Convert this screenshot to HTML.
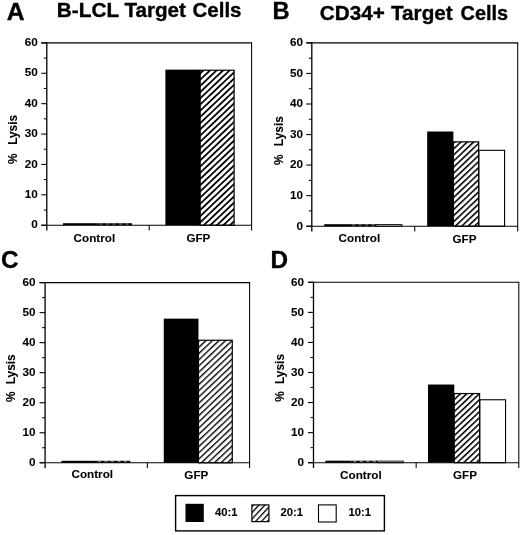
<!DOCTYPE html>
<html lang="en"><head><meta charset="utf-8"><title>Lysis of target cells</title>
<style>html,body{margin:0;padding:0;background:#fff;}svg{display:block;}text{font-family:"Liberation Sans", Arial, Helvetica, sans-serif;font-weight:bold;fill:#000;}.s{stroke:#000;stroke-width:0.08px;}.b{stroke:#000;stroke-width:0.35px;}</style></head><body>
<svg width="520" height="535" viewBox="0 0 520 535">
<rect x="0" y="0" width="520" height="535" fill="#fff"/>
<defs>
<pattern id="hA" patternUnits="userSpaceOnUse" width="20" height="4.5" patternTransform="translate(0 1.7) rotate(-43.5)"><rect x="0" y="0" width="20" height="4.5" fill="#fff"/><rect x="0" y="0" width="20" height="1.75" fill="#000"/></pattern>
<pattern id="hB" patternUnits="userSpaceOnUse" width="20" height="4.4" patternTransform="translate(0 2.0) rotate(-43.5)"><rect x="0" y="0" width="20" height="4.4" fill="#fff"/><rect x="0" y="0" width="20" height="1.55" fill="#000"/></pattern>
<pattern id="hC" patternUnits="userSpaceOnUse" width="20" height="4.5" patternTransform="translate(0 1.5) rotate(-43.5)"><rect x="0" y="0" width="20" height="4.5" fill="#fff"/><rect x="0" y="0" width="20" height="1.35" fill="#000"/></pattern>
<pattern id="hD" patternUnits="userSpaceOnUse" width="20" height="4.35" patternTransform="translate(0 2.0) rotate(-43.5)"><rect x="0" y="0" width="20" height="4.35" fill="#fff"/><rect x="0" y="0" width="20" height="1.55" fill="#000"/></pattern>
<pattern id="hL" patternUnits="userSpaceOnUse" width="20" height="4.3" patternTransform="translate(0 0) rotate(-47)"><rect x="0" y="0" width="20" height="4.3" fill="#fff"/><rect x="0" y="0" width="20" height="1.3" fill="#000"/></pattern>
</defs>
<text class="b" transform="translate(6.8 20.2) scale(1.07 1)" font-size="23.1">A</text>
<text class="b" y="17.2" font-size="20.4"><tspan x="56.8" textLength="62.0" lengthAdjust="spacingAndGlyphs">B-LCL</tspan> <tspan x="124.4" textLength="61.6" lengthAdjust="spacingAndGlyphs">Target</tspan> <tspan x="192.5" textLength="49.0" lengthAdjust="spacingAndGlyphs">Cells</tspan></text>
<line x1="41.3" y1="225.20" x2="46.8" y2="225.20" stroke="#000" stroke-width="1.1"/>
<text class="s" x="37.70" y="228.40" font-size="11.7" text-anchor="end">0</text>
<line x1="43.8" y1="210.01" x2="46.8" y2="210.01" stroke="#000" stroke-width="1"/>
<line x1="41.3" y1="194.82" x2="46.8" y2="194.82" stroke="#000" stroke-width="1.1"/>
<text class="s" x="37.70" y="198.02" font-size="11.7" text-anchor="end">10</text>
<line x1="43.8" y1="179.62" x2="46.8" y2="179.62" stroke="#000" stroke-width="1"/>
<line x1="41.3" y1="164.43" x2="46.8" y2="164.43" stroke="#000" stroke-width="1.1"/>
<text class="s" x="37.70" y="167.63" font-size="11.7" text-anchor="end">20</text>
<line x1="43.8" y1="149.24" x2="46.8" y2="149.24" stroke="#000" stroke-width="1"/>
<line x1="41.3" y1="134.05" x2="46.8" y2="134.05" stroke="#000" stroke-width="1.1"/>
<text class="s" x="37.70" y="137.25" font-size="11.7" text-anchor="end">30</text>
<line x1="43.8" y1="118.86" x2="46.8" y2="118.86" stroke="#000" stroke-width="1"/>
<line x1="41.3" y1="103.67" x2="46.8" y2="103.67" stroke="#000" stroke-width="1.1"/>
<text class="s" x="37.70" y="106.87" font-size="11.7" text-anchor="end">40</text>
<line x1="43.8" y1="88.47" x2="46.8" y2="88.47" stroke="#000" stroke-width="1"/>
<line x1="41.3" y1="73.28" x2="46.8" y2="73.28" stroke="#000" stroke-width="1.1"/>
<text class="s" x="37.70" y="76.48" font-size="11.7" text-anchor="end">50</text>
<line x1="43.8" y1="58.09" x2="46.8" y2="58.09" stroke="#000" stroke-width="1"/>
<line x1="41.3" y1="42.90" x2="46.8" y2="42.90" stroke="#000" stroke-width="1.1"/>
<text class="s" x="37.70" y="46.10" font-size="11.7" text-anchor="end">60</text>
<rect x="63.00" y="223.20" width="34.50" height="2.00" fill="#000"/>
<rect x="97.50" y="223.20" width="34.50" height="2.00" fill="#000"/>
<line x1="99.50" y1="224.10" x2="131.00" y2="224.10" stroke="#fff" stroke-width="0.6" stroke-dasharray="3 3.5"/>
<rect x="165.40" y="69.64" width="34.80" height="155.56" fill="#000"/>
<rect x="200.20" y="70.24" width="33.90" height="154.96" fill="url(#hA)" stroke="#000" stroke-width="1.2"/>
<line x1="46.8" y1="42.199999999999996" x2="46.8" y2="230.6" stroke="#000" stroke-width="1.3"/>
<line x1="41.3" y1="42.9" x2="252.1" y2="42.9" stroke="#000" stroke-width="1.4"/>
<line x1="251.6" y1="42.9" x2="251.6" y2="230.39999999999998" stroke="#000" stroke-width="1.05"/>
<line x1="41.3" y1="225.2" x2="251.6" y2="225.2" stroke="#000" stroke-width="1.05"/>
<line x1="149.2" y1="225.2" x2="149.2" y2="230.39999999999998" stroke="#000" stroke-width="1.05"/>
<text class="s" x="73.60" y="241.60" font-size="11.7">Control</text>
<text class="s" x="186.40" y="241.60" font-size="11.7">GFP</text>
<text class="s" transform="translate(17.10 114.90) rotate(-90)" font-size="11.9" text-anchor="end" word-spacing="5.2">% Lysis</text>
<text class="b" transform="translate(272.4 18.9) scale(1.01 1)" font-size="23.5">B</text>
<text class="b" y="19.7" font-size="20.4"><tspan x="319.8" textLength="65.0" lengthAdjust="spacingAndGlyphs">CD34+</tspan> <tspan x="391.0" textLength="61.7" lengthAdjust="spacingAndGlyphs">Target</tspan> <tspan x="460.6" textLength="47.6" lengthAdjust="spacingAndGlyphs">Cells</tspan></text>
<line x1="306.3" y1="226.20" x2="311.8" y2="226.20" stroke="#000" stroke-width="1.1"/>
<text class="s" x="303.00" y="229.50" font-size="11.7" text-anchor="end">0</text>
<line x1="308.8" y1="210.92" x2="311.8" y2="210.92" stroke="#000" stroke-width="1"/>
<line x1="306.3" y1="195.65" x2="311.8" y2="195.65" stroke="#000" stroke-width="1.1"/>
<text class="s" x="303.00" y="198.95" font-size="11.7" text-anchor="end">10</text>
<line x1="308.8" y1="180.38" x2="311.8" y2="180.38" stroke="#000" stroke-width="1"/>
<line x1="306.3" y1="165.10" x2="311.8" y2="165.10" stroke="#000" stroke-width="1.1"/>
<text class="s" x="303.00" y="168.40" font-size="11.7" text-anchor="end">20</text>
<line x1="308.8" y1="149.82" x2="311.8" y2="149.82" stroke="#000" stroke-width="1"/>
<line x1="306.3" y1="134.55" x2="311.8" y2="134.55" stroke="#000" stroke-width="1.1"/>
<text class="s" x="303.00" y="137.85" font-size="11.7" text-anchor="end">30</text>
<line x1="308.8" y1="119.28" x2="311.8" y2="119.28" stroke="#000" stroke-width="1"/>
<line x1="306.3" y1="104.00" x2="311.8" y2="104.00" stroke="#000" stroke-width="1.1"/>
<text class="s" x="303.00" y="107.30" font-size="11.7" text-anchor="end">40</text>
<line x1="308.8" y1="88.72" x2="311.8" y2="88.72" stroke="#000" stroke-width="1"/>
<line x1="306.3" y1="73.45" x2="311.8" y2="73.45" stroke="#000" stroke-width="1.1"/>
<text class="s" x="303.00" y="76.75" font-size="11.7" text-anchor="end">50</text>
<line x1="308.8" y1="58.18" x2="311.8" y2="58.18" stroke="#000" stroke-width="1"/>
<line x1="306.3" y1="42.90" x2="311.8" y2="42.90" stroke="#000" stroke-width="1.1"/>
<text class="s" x="303.00" y="46.20" font-size="11.7" text-anchor="end">60</text>
<rect x="324.22" y="224.20" width="25.90" height="2.00" fill="#000"/>
<rect x="350.12" y="224.20" width="25.90" height="2.00" fill="#000"/>
<line x1="352.12" y1="225.10" x2="375.02" y2="225.10" stroke="#fff" stroke-width="0.6" stroke-dasharray="3 3.5"/>
<rect x="376.02" y="224.60" width="25.90" height="1.60" fill="#fff" stroke="#000" stroke-width="0.9"/>
<rect x="427.18" y="131.50" width="26.20" height="94.70" fill="#000"/>
<rect x="453.38" y="141.87" width="25.30" height="84.33" fill="url(#hB)" stroke="#000" stroke-width="1.2"/>
<rect x="478.98" y="150.32" width="25.60" height="75.88" fill="#fff" stroke="#000" stroke-width="1.1"/>
<line x1="311.8" y1="42.35" x2="311.8" y2="231.6" stroke="#000" stroke-width="1.3"/>
<line x1="306.3" y1="42.9" x2="518.2" y2="42.9" stroke="#000" stroke-width="1.1"/>
<line x1="517.7" y1="42.9" x2="517.7" y2="231.39999999999998" stroke="#000" stroke-width="1.05"/>
<line x1="306.3" y1="226.2" x2="517.7" y2="226.2" stroke="#000" stroke-width="1.05"/>
<line x1="414.75" y1="226.2" x2="414.75" y2="231.39999999999998" stroke="#000" stroke-width="1.05"/>
<text class="s" x="338.60" y="241.80" font-size="11.7">Control</text>
<text class="s" x="452.50" y="242.80" font-size="11.7">GFP</text>
<text class="s" transform="translate(282.60 116.20) rotate(-90)" font-size="11.9" text-anchor="end" word-spacing="5.0">% Lysis</text>
<text class="b" transform="translate(1.1 268.2) scale(1.0 1)" font-size="24.3">C</text>
<line x1="39.6" y1="462.80" x2="45.1" y2="462.80" stroke="#000" stroke-width="1.1"/>
<text class="s" x="35.60" y="466.00" font-size="11.7" text-anchor="end">0</text>
<line x1="42.1" y1="447.78" x2="45.1" y2="447.78" stroke="#000" stroke-width="1"/>
<line x1="39.6" y1="432.77" x2="45.1" y2="432.77" stroke="#000" stroke-width="1.1"/>
<text class="s" x="35.60" y="435.97" font-size="11.7" text-anchor="end">10</text>
<line x1="42.1" y1="417.75" x2="45.1" y2="417.75" stroke="#000" stroke-width="1"/>
<line x1="39.6" y1="402.73" x2="45.1" y2="402.73" stroke="#000" stroke-width="1.1"/>
<text class="s" x="35.60" y="405.93" font-size="11.7" text-anchor="end">20</text>
<line x1="42.1" y1="387.72" x2="45.1" y2="387.72" stroke="#000" stroke-width="1"/>
<line x1="39.6" y1="372.70" x2="45.1" y2="372.70" stroke="#000" stroke-width="1.1"/>
<text class="s" x="35.60" y="375.90" font-size="11.7" text-anchor="end">30</text>
<line x1="42.1" y1="357.68" x2="45.1" y2="357.68" stroke="#000" stroke-width="1"/>
<line x1="39.6" y1="342.67" x2="45.1" y2="342.67" stroke="#000" stroke-width="1.1"/>
<text class="s" x="35.60" y="345.87" font-size="11.7" text-anchor="end">40</text>
<line x1="42.1" y1="327.65" x2="45.1" y2="327.65" stroke="#000" stroke-width="1"/>
<line x1="39.6" y1="312.63" x2="45.1" y2="312.63" stroke="#000" stroke-width="1.1"/>
<text class="s" x="35.60" y="315.83" font-size="11.7" text-anchor="end">50</text>
<line x1="42.1" y1="297.62" x2="45.1" y2="297.62" stroke="#000" stroke-width="1"/>
<line x1="39.6" y1="282.60" x2="45.1" y2="282.60" stroke="#000" stroke-width="1.1"/>
<text class="s" x="35.60" y="285.80" font-size="11.7" text-anchor="end">60</text>
<rect x="61.52" y="460.80" width="34.40" height="2.00" fill="#000"/>
<rect x="95.92" y="460.80" width="34.40" height="2.00" fill="#000"/>
<line x1="97.92" y1="461.70" x2="129.32" y2="461.70" stroke="#fff" stroke-width="0.6" stroke-dasharray="3 3.5"/>
<rect x="163.77" y="318.64" width="34.70" height="144.16" fill="#000"/>
<rect x="198.47" y="340.26" width="33.80" height="122.54" fill="url(#hC)" stroke="#000" stroke-width="1.2"/>
<line x1="45.1" y1="282.05" x2="45.1" y2="468.2" stroke="#000" stroke-width="1.3"/>
<line x1="39.6" y1="282.6" x2="250.1" y2="282.6" stroke="#000" stroke-width="1.1"/>
<line x1="249.6" y1="282.6" x2="249.6" y2="468.0" stroke="#000" stroke-width="1.05"/>
<line x1="39.6" y1="462.8" x2="249.6" y2="462.8" stroke="#000" stroke-width="1.05"/>
<line x1="147.35" y1="462.8" x2="147.35" y2="468.0" stroke="#000" stroke-width="1.05"/>
<text class="s" x="71.50" y="478.30" font-size="11.7">Control</text>
<text class="s" x="184.30" y="478.70" font-size="11.7">GFP</text>
<text class="s" transform="translate(14.90 354.30) rotate(-90)" font-size="11.9" text-anchor="end" word-spacing="3.8">% Lysis</text>
<text class="b" transform="translate(270.5 268.0) scale(1.0 1)" font-size="24.3">D</text>
<line x1="308.0" y1="462.70" x2="313.5" y2="462.70" stroke="#000" stroke-width="1.1"/>
<text class="s" x="303.90" y="466.00" font-size="11.7" text-anchor="end">0</text>
<line x1="310.5" y1="447.67" x2="313.5" y2="447.67" stroke="#000" stroke-width="1"/>
<line x1="308.0" y1="432.63" x2="313.5" y2="432.63" stroke="#000" stroke-width="1.1"/>
<text class="s" x="303.90" y="435.93" font-size="11.7" text-anchor="end">10</text>
<line x1="310.5" y1="417.60" x2="313.5" y2="417.60" stroke="#000" stroke-width="1"/>
<line x1="308.0" y1="402.57" x2="313.5" y2="402.57" stroke="#000" stroke-width="1.1"/>
<text class="s" x="303.90" y="405.87" font-size="11.7" text-anchor="end">20</text>
<line x1="310.5" y1="387.53" x2="313.5" y2="387.53" stroke="#000" stroke-width="1"/>
<line x1="308.0" y1="372.50" x2="313.5" y2="372.50" stroke="#000" stroke-width="1.1"/>
<text class="s" x="303.90" y="375.80" font-size="11.7" text-anchor="end">30</text>
<line x1="310.5" y1="357.47" x2="313.5" y2="357.47" stroke="#000" stroke-width="1"/>
<line x1="308.0" y1="342.43" x2="313.5" y2="342.43" stroke="#000" stroke-width="1.1"/>
<text class="s" x="303.90" y="345.73" font-size="11.7" text-anchor="end">40</text>
<line x1="310.5" y1="327.40" x2="313.5" y2="327.40" stroke="#000" stroke-width="1"/>
<line x1="308.0" y1="312.37" x2="313.5" y2="312.37" stroke="#000" stroke-width="1.1"/>
<text class="s" x="303.90" y="315.67" font-size="11.7" text-anchor="end">50</text>
<line x1="310.5" y1="297.33" x2="313.5" y2="297.33" stroke="#000" stroke-width="1"/>
<line x1="308.0" y1="282.30" x2="313.5" y2="282.30" stroke="#000" stroke-width="1.1"/>
<text class="s" x="303.90" y="285.60" font-size="11.7" text-anchor="end">60</text>
<rect x="325.35" y="460.70" width="25.95" height="2.00" fill="#000"/>
<rect x="351.30" y="460.70" width="25.95" height="2.00" fill="#000"/>
<line x1="353.30" y1="461.60" x2="376.25" y2="461.60" stroke="#fff" stroke-width="0.6" stroke-dasharray="3 3.5"/>
<rect x="377.25" y="461.10" width="25.95" height="1.60" fill="#fff" stroke="#000" stroke-width="0.9"/>
<rect x="428.00" y="384.53" width="26.25" height="78.17" fill="#000"/>
<rect x="454.25" y="393.55" width="25.35" height="69.15" fill="url(#hD)" stroke="#000" stroke-width="1.2"/>
<rect x="479.90" y="399.76" width="25.65" height="62.94" fill="#fff" stroke="#000" stroke-width="1.1"/>
<line x1="313.5" y1="281.75" x2="313.5" y2="468.09999999999997" stroke="#000" stroke-width="1.3"/>
<line x1="308.0" y1="282.3" x2="519.3" y2="282.3" stroke="#000" stroke-width="1.1"/>
<line x1="518.8" y1="282.3" x2="518.8" y2="467.9" stroke="#000" stroke-width="1.05"/>
<line x1="308.0" y1="462.7" x2="518.8" y2="462.7" stroke="#000" stroke-width="1.05"/>
<line x1="416.15" y1="462.7" x2="416.15" y2="467.9" stroke="#000" stroke-width="1.05"/>
<text class="s" x="340.10" y="478.70" font-size="11.7">Control</text>
<text class="s" x="453.00" y="478.60" font-size="11.7">GFP</text>
<text class="s" transform="translate(283.70 354.00) rotate(-90)" font-size="11.9" text-anchor="end" word-spacing="4.0">% Lysis</text>
<rect x="175.6" y="495.6" width="208.8" height="35.3" fill="#fff" stroke="#000" stroke-width="1.4"/>
<rect x="185.5" y="503.8" width="18.3" height="18.2" fill="#000"/>
<rect x="251.9" y="504.9" width="17.0" height="16.7" fill="url(#hL)" stroke="#000" stroke-width="1.2"/>
<rect x="318.5" y="504.9" width="17.7" height="17.1" fill="#fff" stroke="#000" stroke-width="1.1"/>
<text class="s" x="215.0" y="516.2" font-size="11.2" textLength="22.5" lengthAdjust="spacingAndGlyphs">40:1</text>
<text class="s" x="280.5" y="516.2" font-size="11.2" textLength="22.5" lengthAdjust="spacingAndGlyphs">20:1</text>
<text class="s" x="348.5" y="516.2" font-size="11.2" textLength="22.5" lengthAdjust="spacingAndGlyphs">10:1</text>
</svg></body></html>
